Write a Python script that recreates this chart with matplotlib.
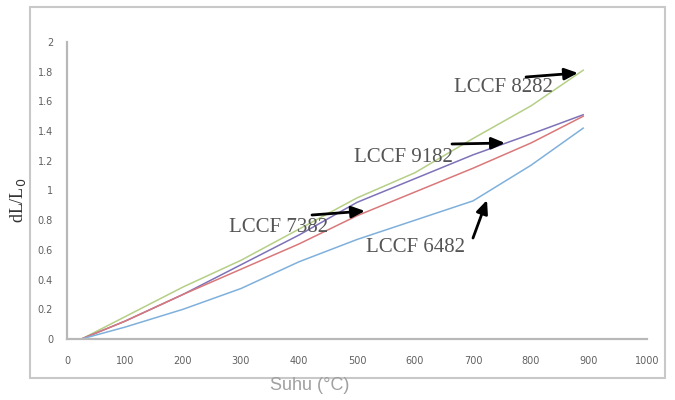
import matplotlib.pyplot as plt
from matplotlib.patches import Rectangle

# data
suhu = [25, 100, 200, 300, 400, 500, 600, 700, 800, 890]
lccf_8282 = [0, 0.15, 0.35, 0.53, 0.74, 0.95, 1.12, 1.35, 1.57, 1.81]
lccf_9182 = [0, 0.12, 0.30, 0.50, 0.70, 0.92, 1.08, 1.24, 1.38, 1.51]
lccf_7382 = [0, 0.12, 0.30, 0.47, 0.64, 0.83, 0.99, 1.15, 1.32, 1.50]
lccf_6482 = [0, 0.08, 0.20, 0.34, 0.52, 0.67, 0.80, 0.93, 1.17, 1.42]

xticks = [0, 100, 200, 300, 400, 500, 600, 700, 800, 900, 1000]
yticks = [0, 0.2, 0.4, 0.6, 0.8, 1, 1.2, 1.4, 1.6, 1.8, 2]

W, H = 675, 400
fig = plt.figure(figsize=(6.75, 4), dpi=100)
ax = fig.add_axes([67 / W, 1 - 339 / H, 580 / W, 297 / H])

# outer chart frame
fig.patches.append(Rectangle((30 / W, 1 - 378 / H), 635 / W, 371 / H,
                             transform=fig.transFigure, fill=False,
                             edgecolor='#c8c8c8', linewidth=1.5))

ax.plot(suhu, lccf_8282, color='#b5cf86', linewidth=1.1)
ax.plot(suhu, lccf_9182, color='#7d72b8', linewidth=1.1)
ax.plot(suhu, lccf_7382, color='#d9787a', linewidth=1.1)
ax.plot(suhu, lccf_6482, color='#7fb0dc', linewidth=1.1)

ax.set_xlim(0, 1000)
ax.set_ylim(0, 2)
ax.set_xticks(xticks)
ax.set_yticks(yticks)
ax.set_xticklabels([str(t) for t in xticks])
ax.set_yticklabels(['0', '0.2', '0.4', '0.6', '0.8', '1', '1.2', '1.4', '1.6', '1.8', '2'])
ax.tick_params(length=0, labelsize=7, colors='#606060', pad=12)
ax.tick_params(axis='y', pad=10)
for s in ['top', 'right']:
    ax.spines[s].set_visible(False)
for s in ['left', 'bottom']:
    ax.spines[s].set_color('#b8b8b8')
    ax.spines[s].set_linewidth(1.6)

# labels
fig.text(310 / W, 1 - 386 / H, 'Suhu (°C)', ha='center', va='center',
         fontsize=13, color='#a0a0a0', family='Liberation Sans')
fig.text(18 / W, 1 - 200 / H, 'dL/L$_0$', ha='center', va='center',
         rotation=90, fontsize=13, color='#333333', family='Liberation Serif')

serif = dict(fontsize=15, color='#555555', family='Liberation Serif',
             ha='center', va='center')
arrow = dict(arrowstyle='-|>,head_length=0.8,head_width=0.35', color='black',
             lw=2, shrinkA=0, shrinkB=0)


def px(x, y):
    # pixel from top-left -> figure fraction
    return (x / W, 1 - y / H)


notes = [
    ('LCCF 8282', (503, 88), (526, 77), (578, 73)),
    ('LCCF 9182', (403, 157), (452, 144), (505, 143)),
    ('LCCF 7382', (279, 228), (312, 215), (365, 211)),
    ('LCCF 6482', (415, 248), (473, 238), (487, 200)),
]
for label, pos, start, end in notes:
    fig.text(*px(*pos), label, **serif)
    ax.annotate('', xy=px(*end), xytext=px(*start), xycoords='figure fraction',
                textcoords='figure fraction', arrowprops=arrow)

fig.savefig('out.png', dpi=100)
